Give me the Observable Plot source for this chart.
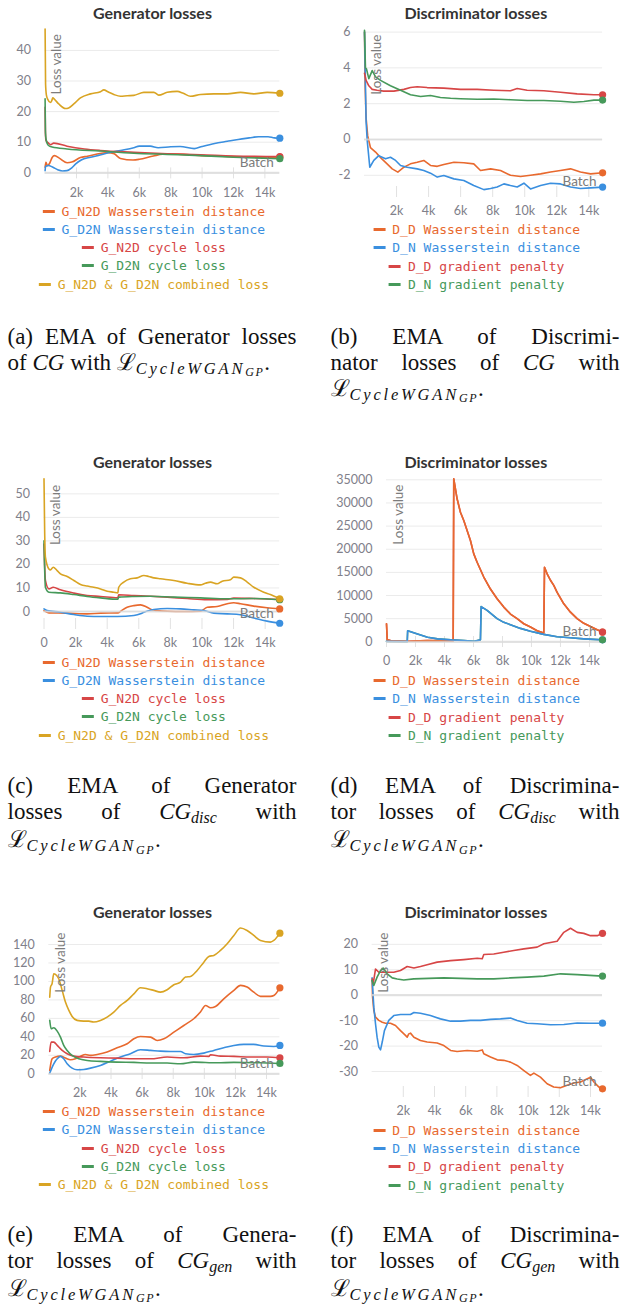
<!DOCTYPE html>
<html><head><meta charset="utf-8">
<script src="https://cdn.jsdelivr.net/npm/d3@7"></script>
<script src="https://cdn.jsdelivr.net/npm/@observablehq/plot@0.6"></script>
<style>
body{margin:0;background:#fff;}
#page{position:relative;width:621px;height:1306px;overflow:hidden;background:#fff;}
.title{position:absolute;font-family:Lato,sans-serif;font-weight:700;font-size:16px;color:#333;transform:translate(-50%,-50%);white-space:nowrap;}
.chart{position:absolute;}
.legend{position:absolute;font-family:"DejaVu Sans Mono",monospace;font-size:13px;line-height:18.3px;text-align:center;transform:translateX(-50%);white-space:nowrap;}
.legend .sw{display:inline-block;width:12px;height:3px;vertical-align:middle;margin-right:7px;position:relative;top:-1px;}
.cap{position:absolute;width:289px;font-family:"Liberation Serif","Times New Roman",serif;font-size:23px;line-height:26px;color:#111;}
.cap .j{text-align:justify;text-align-last:justify;}
.cap .l{text-align:left;}
.cap i{font-style:italic;}
.cap .sub{font-style:italic;font-size:16px;position:relative;top:4px;}
.cap .m1{font-style:italic;font-size:16.5px;letter-spacing:2.8px;position:relative;top:4px;}
.cap .m2{font-style:italic;font-size:12px;letter-spacing:1.5px;position:relative;top:2.5px;}
</style></head>
<body><div id="page"></div>
<script>
// ---------- colours ----------
const C_ORANGE = "#e8692e", C_BLUE = "#3a8fdf", C_RED = "#d74646", C_GREEN = "#46995a", C_GOLD = "#d9a423";

// ---------- tick values ----------
const ticksK = [2000, 4000, 6000, 8000, 10000, 12000, 14000];
const ticksK0 = [0, 2000, 4000, 6000, 8000, 10000, 12000, 14000];
const aYTicks = [0, 10, 20, 30, 40];
const bYTicks = [-2, 0, 2, 4, 6];
const cYTicks = [0, 10, 20, 30, 40, 50];
const dYTicks = [0, 5000, 10000, 15000, 20000, 25000, 30000, 35000];
const eYTicks = [0, 20, 40, 60, 80, 100, 120, 140];
const fYTicks = [-30, -20, -10, 0, 10, 20];

// ---------- legend labels ----------
const genLabels = ["G_N2D Wasserstein distance", "G_D2N Wasserstein distance", "G_N2D cycle loss", "G_D2N cycle loss", "G_N2D & G_D2N combined loss"];
const discLabels = ["D_D Wasserstein distance", "D_N Wasserstein distance", "D_D gradient penalty", "D_N gradient penalty"];

// ---------- (a) CG generator losses: [batch, value] ----------
const aN2DWass = [[0,1.8],[50,3.4],[150,2.3],[300,3.2],[450,5],[600,5.6],[900,4.8],[1400,3.3],[1700,3.5],[2250,5],[2700,5.4],[3500,6.3],[4000,6.6],[4400,6.2],[4800,4.7],[5600,4.2],[6000,4.4],[6900,5.5],[7800,6.2],[8400,6.1],[9200,5.9],[10000,5.6],[11300,5.4],[12900,5.1],[14950,5.1]];
const aD2NWass = [[0,0.7],[30,2],[200,2.4],[500,1.8],[800,1],[1100,0.6],[1400,0.7],[1700,1.6],[1950,2.9],[2300,4.2],[2900,5.1],[3500,5.8],[4200,6.7],[4800,7.3],[5650,8.2],[6000,8.7],[6700,8.7],[7200,8.2],[8000,8.5],[8600,8.6],[9500,7.9],[10000,8.6],[10800,9.6],[11600,10.3],[12300,10.9],[13000,11.4],[13600,11.8],[14200,11.8],[14600,11.4],[14950,11.3]];
const aN2DCyc = [[0,21.4],[20,13],[60,10.5],[200,9.8],[350,9.2],[550,9.7],[1400,8.7],[2500,7.8],[3500,7.3],[5650,6.7],[7780,6.2],[9900,5.9],[12000,5.5],[14950,5.3]];
const aD2NCyc = [[0,24.2],[20,14],[60,11],[200,9],[450,8.4],[1400,7.8],[3500,7.1],[5650,6.4],[7780,6],[9900,5.6],[12000,5.1],[14950,4.6]];
const aComb = [[0,47],[30,29],[80,25.5],[170,24],[340,23],[420,23.5],[490,24.5],[600,24],[870,22.5],[1300,21],[1500,21.2],[1830,22.5],[2250,24.5],[2890,25.8],[3530,26.5],[3740,27.1],[4000,26.5],[4380,25.6],[4800,25],[5230,25.2],[5650,25.3],[6290,26.3],[6930,26.3],[7240,25.4],[7780,26.3],[8410,26.6],[8800,26],[9260,25],[9900,25.6],[10750,25.8],[11600,25.8],[12450,26.3],[13300,25.8],[14150,26.3],[14950,26]];

// ---------- (b) CG discriminator losses ----------
const bDDWass = [[0,6.0],[40,3.0],[100,1.2],[200,0.2],[370,-0.45],[690,-0.7],[890,-0.9],[1100,-1.1],[1410,-1.36],[1730,-1.64],[2080,-1.82],[2460,-1.55],[2870,-1.36],[3290,-1.27],[3700,-1.17],[4120,-1.45],[4540,-1.5],[4950,-1.4],[5580,-1.27],[6200,-1.3],[6820,-1.36],[7240,-1.73],[7870,-1.64],[8490,-1.73],[9110,-2.0],[9740,-2.07],[10360,-2.0],[10990,-1.92],[11610,-1.82],[12230,-1.73],[12860,-1.64],[13480,-1.82],[14110,-1.92],[14860,-1.86]];
const bDNWass = [[0,6.0],[100,1.0],[170,-0.06],[330,-1.55],[580,-1.17],[890,-0.9],[1100,-0.99],[1310,-1.08],[1620,-0.99],[1940,-1.17],[2250,-1.45],[2660,-1.55],[3290,-1.64],[3700,-1.73],[4120,-1.88],[4540,-2.1],[4950,-2.01],[5580,-2.2],[6200,-2.29],[6820,-2.57],[7450,-2.8],[7870,-2.74],[8280,-2.65],[8700,-2.48],[9110,-2.57],[9530,-2.65],[9950,-2.44],[10360,-2.76],[10990,-2.57],[11610,-2.44],[12230,-2.48],[12860,-2.65],[13480,-2.74],[14110,-2.7],[14860,-2.66]];
const bDDGp = [[0,3.7],[100,3.3],[270,3.0],[480,2.8],[790,2.75],[1200,2.7],[1830,2.7],[2460,2.8],[2870,2.9],[3290,2.95],[3910,2.9],[4950,2.87],[5990,2.8],[7030,2.8],[8070,2.75],[9110,2.72],[9530,2.85],[10150,2.75],[11190,2.72],[12230,2.64],[13270,2.55],[14320,2.5],[14860,2.5]];
const bDNGp = [[0,6.1],[60,4.0],[120,3.95],[270,3.4],[480,3.85],[690,3.5],[1000,3.3],[1620,3.0],[2250,2.75],[2870,2.5],[3500,2.4],[4120,2.46],[4740,2.35],[5370,2.3],[5990,2.28],[7030,2.25],[8070,2.26],[9110,2.22],[10150,2.18],[11190,2.18],[12230,2.14],[13070,2.08],[13690,2.12],[14320,2.2],[14860,2.2]];

// ---------- (c) CG_disc generator losses ----------
const cN2DWass = [[0,0.4],[310,-0.6],[1470,-0.7],[2730,-1],[3580,-0.7],[4670,-0.6],[4900,0.4],[5260,1.8],[5690,2.5],[6110,2.8],[6530,1.8],[6850,0.7],[7160,0.4],[7800,0.1],[8850,0],[9900,0.1],[10330,1.8],[10960,2.1],[11600,3.3],[12010,3.7],[12440,3.3],[13280,2.3],[14120,1.6],[14920,1.1]];
const cD2NWass = [[0,1.1],[200,0.4],[1040,-0.3],[1890,-1.3],[2730,-2],[3580,-2.1],[4630,-2.1],[5690,-1.7],[6110,-1.0],[6320,-0.3],[6950,0.85],[7800,1.3],[8640,1.1],[9480,0.7],[10120,0.4],[10750,-0.7],[11600,-1],[12440,-1.4],[13280,-2.8],[14120,-4.1],[14920,-5]];
const cN2DCyc = [[0,28.7],[90,13.2],[310,9.6],[580,10.3],[1040,9.2],[1890,7.8],[2730,6.8],[3580,6.4],[4670,5.8],[4730,7.1],[5690,6.8],[6750,6.5],[7800,6.1],[9060,5.5],[10330,5.0],[11600,5.1],[12010,5.7],[13280,5.5],[14920,5.1]];
const cD2NCyc = [[0,30],[90,10.3],[310,8.2],[1040,7.9],[1890,7.2],[2730,6.4],[3580,5.8],[4670,5.2],[4730,6.1],[5690,6.4],[6750,6.5],[8220,6.1],[9900,5.8],[11600,5.4],[13280,5.5],[14920,5.0]];
const cComb = [[0,56.4],[40,35],[90,23.1],[310,18.1],[410,17.7],[580,18.8],[830,17.4],[1040,16.0],[1470,14.9],[1890,13.2],[2310,11.5],[2730,10.8],[3150,10.3],[3580,9.6],[4000,8.6],[4420,8.2],[4670,7.9],[4730,10.3],[5050,12.5],[5470,13.9],[5900,14.3],[6320,15.3],[6630,14.9],[6950,14.3],[7370,13.9],[8220,13.2],[9060,12.0],[9900,11.3],[10220,12.0],[10540,12.5],[10960,11.8],[11280,12.9],[11800,13.5],[12010,14.6],[12440,14.3],[12860,12.5],[13280,10.3],[13910,8.2],[14330,7.2],[14920,5.4]];

// ---------- (d) CG_disc discriminator losses ----------
const dDDWass = [[0,3900],[50,420],[280,280],[1430,130],[2800,250],[4600,200],[4640,35200],[4870,30900],[5100,28000],[5330,26200],[5790,21900],[6020,19000],[6250,17200],[6710,14000],[7170,11400],[7630,9300],[8090,7500],[8550,6000],[9010,5000],[9470,3900],[9930,3200],[10390,2400],[10850,1900],[10900,16100],[11080,14700],[11310,13300],[11540,12200],[11770,10700],[12230,8200],[12690,6400],[13150,5000],[13610,4000],[14070,3300],[14530,2600],[14900,2100]];
const dDNWass = [[0,100],[1430,30],[1460,2400],[2140,1700],[2830,1000],[3520,640],[4440,420],[5360,280],[6050,130],[6480,420],[6530,7600],[6940,6800],[7630,5000],[8090,4200],[8550,3700],[9240,2900],[9930,2300],[10850,1600],[11770,1100],[12690,860],[13610,640],[14900,420]];
// gradient penalties dominate and run along the Wasserstein curves in this run
const dDDGp = dDDWass;
const dDNGp = dDNWass;

// ---------- (e) CG_gen generator losses ----------
const eN2DWass = [[60,3.6],[210,16.2],[430,18.1],[750,19.1],[1070,17.0],[1390,15.2],[1710,16.2],[2040,19.1],[2360,20.9],[2680,19.9],[3110,20.9],[3750,23.5],[4390,28.2],[5040,32.5],[5470,37.9],[5890,40.4],[6540,39.7],[6970,36.1],[7400,37.9],[8040,45.1],[8680,52.3],[9320,59.6],[9750,66.8],[10080,74.0],[10400,71.5],[10720,72.9],[11250,81.2],[11900,90.3],[12330,95.7],[12750,93.9],[13180,88.4],[13610,83.8],[14250,83.8],[14470,84.8],[14860,93.1]];
const eD2NWass = [[60,0.7],[320,10.8],[540,16.2],[750,18.8],[960,16.2],[1180,10.8],[1500,6.1],[1820,4.3],[2250,4.7],[2680,6.1],[3320,9.0],[3970,13.7],[4610,18.1],[5250,21.7],[5890,26.0],[6540,25.3],[7180,24.5],[7820,24.2],[8470,24.2],[8790,21.7],[9320,20.9],[9970,22.4],[10610,25.3],[11250,28.2],[11900,30.7],[12540,31.8],[13180,31.8],[13830,30.0],[14470,29.6],[14860,30.7]];
const eN2DCyc = [[60,24.2],[150,34.3],[320,34.3],[540,30.7],[860,25.3],[1180,21.7],[1610,19.1],[2250,18.1],[3320,17.3],[4390,17.0],[5470,16.2],[6540,16.2],[7610,18.1],[8680,17.3],[9750,19.1],[10290,18.8],[10400,20.6],[11040,19.1],[11900,18.8],[12970,18.1],[14040,18.1],[14860,17.3]];
const eD2NCyc = [[60,57.8],[150,48.7],[320,49.8],[540,46.2],[750,39.7],[960,30.7],[1180,25.3],[1500,19.9],[1930,16.2],[2470,14.4],[3320,13.4],[4390,12.6],[5470,12.3],[6540,11.6],[7610,11.6],[8470,10.8],[9320,12.6],[10830,11.9],[11900,12.3],[13610,11.9],[14860,11.2]];
const eComb = [[60,83],[110,93.9],[210,97.5],[320,108.3],[430,107.6],[640,102.9],[860,90.3],[1070,77.6],[1290,68.6],[1500,62.1],[1820,57.8],[2250,57.0],[2570,57.0],[2890,56.0],[3320,57.8],[3750,61.4],[4180,66.8],[4610,74.0],[5040,79.4],[5470,86.6],[5890,93.1],[6320,92.1],[6750,90.3],[7180,88.4],[7610,91.0],[8040,96.4],[8470,99.3],[8790,104.7],[9110,105.4],[9540,111.9],[9970,120.9],[10290,127.1],[10610,128.2],[11040,133.6],[11470,140.8],[11900,149.8],[12330,157.8],[12750,155.2],[13180,149.8],[13610,144.4],[14250,142.6],[14470,144.4],[14860,152.3]];

// ---------- (f) CG_gen discriminator losses ----------
const fDDWass = [[0,5.8],[30,-0.8],[110,-6.0],[220,-8.6],[430,-9.9],[650,-10.6],[860,-11.0],[1180,-11.0],[1500,-11.9],[1820,-13.9],[2140,-15.8],[2250,-16.5],[2350,-15.2],[2460,-14.9],[2680,-16.5],[3100,-17.8],[3530,-18.4],[4170,-18.8],[4600,-19.8],[5030,-21.7],[5450,-22.1],[6090,-21.7],[6740,-22.0],[7060,-21.5],[7160,-23.0],[7590,-24.3],[8020,-25.4],[8440,-25.6],[8870,-26.3],[9300,-27.6],[9730,-29.6],[10150,-31.5],[10370,-30.6],[10790,-32.2],[11220,-34.8],[11640,-36.1],[12070,-36.4],[12500,-35.4],[12930,-34.5],[13360,-34.1],[14000,-32.2],[14220,-34.1],[14540,-36.1],[14770,-36.8]];
const fDNWass = [[0,6.8],[110,-4.7],[220,-11.3],[320,-16.5],[430,-20.4],[540,-21.5],[650,-18.4],[790,-13.9],[1070,-9.9],[1390,-8.0],[1820,-7.6],[2460,-7.6],[2680,-6.8],[3100,-7.1],[3740,-8.0],[4380,-9.3],[5030,-10.2],[5670,-10.2],[6310,-9.9],[6950,-9.9],[7590,-9.5],[8230,-9.3],[8870,-9.0],[9300,-9.9],[9940,-11.0],[10580,-11.2],[11440,-11.6],[12290,-11.5],[13150,-10.9],[14000,-11.0],[14770,-11.0]];
const fDDGp = [[0,6.4],[70,4.5],[220,10.3],[430,9.0],[1390,9.0],[1820,9.7],[2250,11.3],[2680,10.7],[3100,11.3],[3530,12.0],[4170,13.0],[5030,13.6],[5880,14.0],[6740,14.5],[7060,14.3],[7160,16.0],[7800,16.2],[8440,16.9],[9080,17.6],[9730,18.2],[10580,18.9],[11010,20.2],[11860,21.2],[12290,24.7],[12720,26.3],[13150,24.7],[13570,24.3],[14000,23.4],[14430,23.4],[14770,24.3]];
const fDNGp = [[0,5.8],[110,3.8],[320,7.1],[540,9.7],[710,10.7],[970,8.4],[1290,6.8],[1610,6.4],[2030,6.0],[2670,6.4],[4600,6.8],[6740,6.4],[7800,6.4],[8870,6.8],[9940,7.1],[11010,7.5],[12080,8.4],[13150,8.1],[14220,7.7],[14770,7.5]];

// ---------- helpers ----------
const fmtK = d => d === 0 ? "0" : (d / 1000) + "k";
const page = document.getElementById("page");

function addEl(cls, html, style) {
  const el = document.createElement("div");
  el.className = cls;
  el.innerHTML = html;
  Object.assign(el.style, style);
  page.appendChild(el);
  return el;
}

function makeChart(cfg) {
  const innerH = cfg.height - cfg.mT - cfg.mB;
  const X = d => d[0], Y = d => d[1];
  const marks = [
    Plot.gridY(cfg.yTicks, {stroke: "#ebebeb", strokeOpacity: 1, strokeWidth: 1}),
    Plot.gridX(cfg.xTicks, {stroke: "#e2e2e2", strokeOpacity: 1, strokeWidth: 1, insetTop: innerH - 11}),
    Plot.axisY(cfg.yTicks, {tickSize: 0, tickPadding: 14, label: null, tickFormat: d => String(d)}),
    Plot.axisX(cfg.xTicks, {tickSize: 0, tickPadding: 9, label: null, tickFormat: fmtK})
  ];
  for (const s of cfg.lines) marks.push(Plot.line(s.data, {x: X, y: Y, stroke: s.color, strokeWidth: 1.6, curve: cfg.curve}));
  marks.push(Plot.ruleY([0], {stroke: "#d9d9d9", strokeWidth: 2.2, strokeOpacity: 0.75}));
  for (const s of cfg.dots) marks.push(Plot.dot([s.data[s.data.length - 1]], {x: X, y: Y, r: 3.6, fill: s.color}));
  marks.push(Plot.text(["Loss value"], {frameAnchor: "top-left", rotate: -90, textAnchor: "end", lineAnchor: "middle", dx: 12, dy: 6, fill: "#7c7c7c", fontSize: 13.5}));
  marks.push(Plot.text(["Batch"], {frameAnchor: "bottom-right", textAnchor: "end", lineAnchor: "middle", dx: -6, dy: -16, fill: "#7c7c7c", fontSize: 13.5}));
  const svg = Plot.plot({
    width: cfg.width, height: cfg.height,
    marginLeft: cfg.mL, marginRight: cfg.mR, marginTop: cfg.mT, marginBottom: cfg.mB,
    x: {domain: cfg.xDomain}, y: {domain: cfg.yDomain},
    style: {fontFamily: "Lato, sans-serif", fontSize: "12.5px", color: "#80808a", background: "transparent", overflow: "visible"},
    marks
  });
  const wrap = addEl("chart", "", {left: cfg.left + "px", top: cfg.top + "px"});
  wrap.appendChild(svg);
}

function legend(labels, colors, cx, top) {
  const rows = labels.map((t, i) => `<div style="color:${colors[i]}"><span class="sw" style="background:${colors[i]}"></span>${t.replace(/&/g, "&amp;")}</div>`).join("");
  addEl("legend", rows, {left: cx + "px", top: top + "px"});
}

const math = `ℒ<span class="m1">CycleWGAN<span class="m2">GP</span></span>.`;
function caption(lines, left, top) {
  const html = lines.map((t, i) => `<div class="${i < lines.length - 1 ? "j" : "l"}">${t}</div>`).join("");
  addEl("cap", html, {left: left + "px", top: top + "px"});
}
function title(t, cx, cy) { addEl("title", t, {left: cx + "px", top: cy + "px"}); }

const genColors = [C_ORANGE, C_BLUE, C_RED, C_GREEN, C_GOLD];
const discColors = [C_ORANGE, C_BLUE, C_RED, C_GREEN];

// ---------- (a) ----------
title("Generator losses", 152.5, 11.7);
makeChart({left: 0, top: 20, width: 310, height: 185, mL: 44.6, mR: 30.7, mT: 7.6, mB: 26.6,
  xDomain: [0, 14950], yDomain: [-2, 47.3], xTicks: ticksK, yTicks: aYTicks, curve: "monotone-x",
  lines: [{data: aN2DWass, color: C_ORANGE}, {data: aD2NWass, color: C_BLUE}, {data: aN2DCyc, color: C_RED}, {data: aD2NCyc, color: C_GREEN}, {data: aComb, color: C_GOLD}],
  dots: [{data: aN2DWass, color: C_ORANGE}, {data: aD2NWass, color: C_BLUE}, {data: aN2DCyc, color: C_RED}, {data: aD2NCyc, color: C_GREEN}, {data: aComb, color: C_GOLD}]});
legend(genLabels, genColors, 153.8, 202.5);
caption(["(a) EMA of Generator losses", `of <i>CG</i> with ${math}`], 7.5, 323.7);

// ---------- (b) ----------
title("Discriminator losses", 475.8, 11.7);
makeChart({left: 310, top: 20, width: 311, height: 200, mL: 54, mR: 18.9, mT: 8, mB: 23,
  xDomain: [0, 14860], yDomain: [-3.24, 6.2], xTicks: ticksK, yTicks: bYTicks, curve: "linear",
  lines: [{data: bDDWass, color: C_ORANGE}, {data: bDNWass, color: C_BLUE}, {data: bDDGp, color: C_RED}, {data: bDNGp, color: C_GREEN}],
  dots: [{data: bDDWass, color: C_ORANGE}, {data: bDNWass, color: C_BLUE}, {data: bDDGp, color: C_RED}, {data: bDNGp, color: C_GREEN}]});
legend(discLabels, discColors, 476.7, 221.2);
caption(["(b) EMA of Discrimi-", "nator losses of <i>CG</i> with", math], 330.5, 323.7);

// ---------- (c) ----------
title("Generator losses", 152.5, 460.7);
makeChart({left: 0, top: 470, width: 310, height: 185, mL: 43.5, mR: 30.8, mT: 8.3, mB: 26,
  xDomain: [0, 14920], yDomain: [-7.65, 56.4], xTicks: ticksK0, yTicks: cYTicks, curve: "monotone-x",
  lines: [{data: cN2DWass, color: C_ORANGE}, {data: cD2NWass, color: C_BLUE}, {data: cN2DCyc, color: C_RED}, {data: cD2NCyc, color: C_GREEN}, {data: cComb, color: C_GOLD}],
  dots: [{data: cN2DWass, color: C_ORANGE}, {data: cD2NWass, color: C_BLUE}, {data: cN2DCyc, color: C_RED}, {data: cD2NCyc, color: C_GREEN}, {data: cComb, color: C_GOLD}]});
legend(genLabels, genColors, 153.8, 653.5);
caption(["(c) EMA of Generator", `losses of <i>CG</i><span class="sub">disc</span> with`, math], 7.5, 773);

// ---------- (d) ----------
title("Discriminator losses", 475.8, 460.7);
makeChart({left: 310, top: 470, width: 311, height: 200, mL: 76, mR: 19, mT: 8, mB: 23,
  xDomain: [0, 14900], yDomain: [-1232, 35290], xTicks: ticksK0, yTicks: dYTicks, curve: "linear",
  lines: [{data: dDDGp, color: C_RED}, {data: dDNGp, color: C_GREEN}, {data: dDDWass, color: C_ORANGE}, {data: dDNWass, color: C_BLUE}],
  dots: [{data: dDDWass, color: C_ORANGE}, {data: dDNWass, color: C_BLUE}, {data: dDDGp, color: C_RED}, {data: dDNGp, color: C_GREEN}]});
legend(discLabels, discColors, 476.7, 672.2);
caption(["(d) EMA of Discrimina-", `tor losses of <i>CG</i><span class="sub">disc</span> with`, math], 330.5, 773);

// ---------- (e) ----------
title("Generator losses", 152.5, 910.7);
makeChart({left: 0, top: 920, width: 310, height: 185, mL: 48.3, mR: 30.6, mT: 6, mB: 26,
  xDomain: [0, 14860], yDomain: [-6.2, 159.5], xTicks: ticksK, yTicks: eYTicks, curve: "monotone-x",
  lines: [{data: eN2DWass, color: C_ORANGE}, {data: eD2NWass, color: C_BLUE}, {data: eN2DCyc, color: C_RED}, {data: eD2NCyc, color: C_GREEN}, {data: eComb, color: C_GOLD}],
  dots: [{data: eN2DWass, color: C_ORANGE}, {data: eD2NWass, color: C_BLUE}, {data: eN2DCyc, color: C_RED}, {data: eD2NCyc, color: C_GREEN}, {data: eComb, color: C_GOLD}]});
legend(genLabels, genColors, 153.8, 1103.2);
caption(["(e) EMA of Genera-", `tor losses of <i>CG</i><span class="sub">gen</span> with`, math], 7.5, 1221.5);

// ---------- (f) ----------
title("Discriminator losses", 475.8, 910.7);
makeChart({left: 310, top: 920, width: 311, height: 200, mL: 61.6, mR: 19, mT: 6, mB: 23,
  xDomain: [0, 14770], yDomain: [-40.2, 27], xTicks: ticksK, yTicks: fYTicks, curve: "linear",
  lines: [{data: fDDWass, color: C_ORANGE}, {data: fDNWass, color: C_BLUE}, {data: fDDGp, color: C_RED}, {data: fDNGp, color: C_GREEN}],
  dots: [{data: fDDWass, color: C_ORANGE}, {data: fDNWass, color: C_BLUE}, {data: fDDGp, color: C_RED}, {data: fDNGp, color: C_GREEN}]});
legend(discLabels, discColors, 476.7, 1121.9);
caption(["(f) EMA of Discrimina-", `tor losses of <i>CG</i><span class="sub">gen</span> with`, math], 330.5, 1221.5);
</script>
</body></html>
